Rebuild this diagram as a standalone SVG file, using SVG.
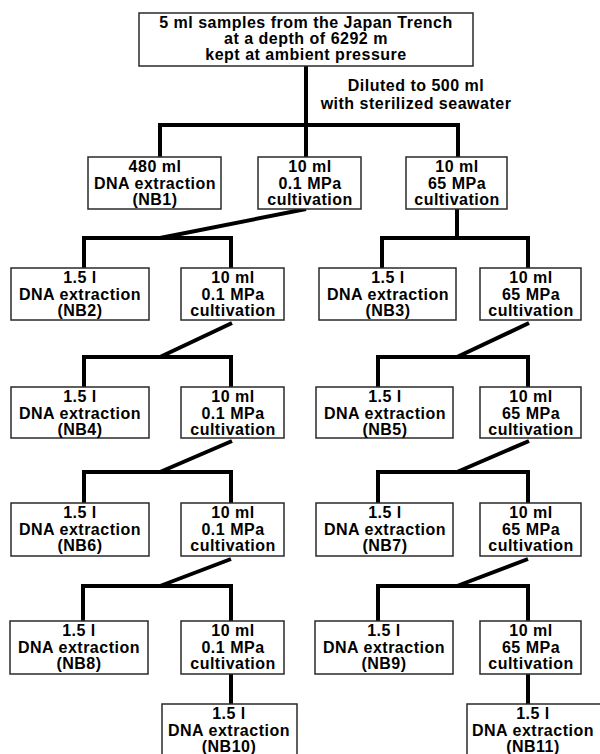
<svg xmlns="http://www.w3.org/2000/svg" width="600" height="754" viewBox="0 0 600 754">
<style>
.box{fill:#fff;stroke:#2a2a2a;stroke-width:1.5}
.t{font-family:"Liberation Sans",Arial,sans-serif;font-weight:bold;font-size:16px;letter-spacing:0.5px;text-anchor:middle;fill:#000}
.c{fill:none;stroke:#000;stroke-width:4;stroke-linejoin:miter;stroke-linecap:butt}
</style>
<rect width="600" height="754" fill="#fff"/>
<g id="connectors" class="c">
<path d="M306,66 V157 M160,157 V125 H458 V157"/>
<path d="M306,209 L160,238 M84,268 V238 H231 V268"/>
<path d="M457,209 V238 M382,268 V238 H528 V268"/>
<path d="M232,323 L160,357 M84,387 V357 H231 V387"/>
<path d="M529,323 L457,357 M378,387 V357 H528 V387"/>
<path d="M232,441 L160,472 M84,503 V472 H231 V503"/>
<path d="M529,441 L457,472 M378,503 V472 H528 V503"/>
<path d="M231,559 L160,586 M83,621 V586 H231 V621"/>
<path d="M528,559 L457,586 M378,621 V586 H528 V621"/>
<path d="M231,674 V704 M528,674 V704"/>
</g>
<g id="source">
<rect class="box" x="139" y="13" width="334" height="53"/>
<text class="t" x="306" y="28">5 ml samples from the Japan Trench</text>
<text class="t" x="306" y="44">at a depth of 6292 m</text>
<text class="t" x="306" y="60">kept at ambient pressure</text>
</g>
<g id="dilution-label">
<text class="t" x="416" y="91">Diluted to 500 ml</text>
<text class="t" x="416" y="109">with sterilized seawater</text>
</g>
<g id="nb1">
<rect class="box" x="88" y="157" width="133" height="52"/>
<text class="t" x="155" y="172">480 ml</text>
<text class="t" x="155" y="189">DNA extraction</text>
<text class="t" x="155" y="205">(NB1)</text>
</g>
<g id="cult01-1">
<rect class="box" x="258" y="157" width="103" height="52"/>
<text class="t" x="310" y="172">10 ml</text>
<text class="t" x="310" y="189">0.1 MPa</text>
<text class="t" x="310" y="205">cultivation</text>
</g>
<g id="cult65-1">
<rect class="box" x="406" y="157" width="101" height="52"/>
<text class="t" x="457" y="172">10 ml</text>
<text class="t" x="457" y="189">65 MPa</text>
<text class="t" x="457" y="205">cultivation</text>
</g>
<g id="nb2">
<rect class="box" x="11" y="268" width="138" height="52"/>
<text class="t" x="80" y="283">1.5 l</text>
<text class="t" x="80" y="300">DNA extraction</text>
<text class="t" x="80" y="316">(NB2)</text>
</g>
<g id="cult01-2">
<rect class="box" x="181" y="268" width="103" height="52"/>
<text class="t" x="233" y="283">10 ml</text>
<text class="t" x="233" y="300">0.1 MPa</text>
<text class="t" x="233" y="316">cultivation</text>
</g>
<g id="nb3">
<rect class="box" x="319" y="268" width="137" height="52"/>
<text class="t" x="388" y="283">1.5 l</text>
<text class="t" x="388" y="300">DNA extraction</text>
<text class="t" x="388" y="316">(NB3)</text>
</g>
<g id="cult65-2">
<rect class="box" x="480" y="268" width="101" height="52"/>
<text class="t" x="531" y="283">10 ml</text>
<text class="t" x="531" y="300">65 MPa</text>
<text class="t" x="531" y="316">cultivation</text>
</g>
<g id="nb4">
<rect class="box" x="11" y="387" width="138" height="51"/>
<text class="t" x="80" y="402">1.5 l</text>
<text class="t" x="80" y="419">DNA extraction</text>
<text class="t" x="80" y="435">(NB4)</text>
</g>
<g id="cult01-3">
<rect class="box" x="181" y="387" width="103" height="51"/>
<text class="t" x="233" y="402">10 ml</text>
<text class="t" x="233" y="419">0.1 MPa</text>
<text class="t" x="233" y="435">cultivation</text>
</g>
<g id="nb5">
<rect class="box" x="316" y="387" width="137" height="51"/>
<text class="t" x="385" y="402">1.5 l</text>
<text class="t" x="385" y="419">DNA extraction</text>
<text class="t" x="385" y="435">(NB5)</text>
</g>
<g id="cult65-3">
<rect class="box" x="480" y="387" width="101" height="51"/>
<text class="t" x="531" y="402">10 ml</text>
<text class="t" x="531" y="419">65 MPa</text>
<text class="t" x="531" y="435">cultivation</text>
</g>
<g id="nb6">
<rect class="box" x="11" y="503" width="138" height="53"/>
<text class="t" x="80" y="518">1.5 l</text>
<text class="t" x="80" y="535">DNA extraction</text>
<text class="t" x="80" y="551">(NB6)</text>
</g>
<g id="cult01-4">
<rect class="box" x="181" y="503" width="103" height="53"/>
<text class="t" x="233" y="518">10 ml</text>
<text class="t" x="233" y="535">0.1 MPa</text>
<text class="t" x="233" y="551">cultivation</text>
</g>
<g id="nb7">
<rect class="box" x="316" y="503" width="137" height="53"/>
<text class="t" x="385" y="518">1.5 l</text>
<text class="t" x="385" y="535">DNA extraction</text>
<text class="t" x="385" y="551">(NB7)</text>
</g>
<g id="cult65-4">
<rect class="box" x="480" y="503" width="101" height="53"/>
<text class="t" x="531" y="518">10 ml</text>
<text class="t" x="531" y="535">65 MPa</text>
<text class="t" x="531" y="551">cultivation</text>
</g>
<g id="nb8">
<rect class="box" x="10" y="621" width="138" height="53"/>
<text class="t" x="79" y="636">1.5 l</text>
<text class="t" x="79" y="653">DNA extraction</text>
<text class="t" x="79" y="669">(NB8)</text>
</g>
<g id="cult01-5">
<rect class="box" x="181" y="621" width="103" height="53"/>
<text class="t" x="233" y="636">10 ml</text>
<text class="t" x="233" y="653">0.1 MPa</text>
<text class="t" x="233" y="669">cultivation</text>
</g>
<g id="nb9">
<rect class="box" x="315" y="621" width="138" height="53"/>
<text class="t" x="384" y="636">1.5 l</text>
<text class="t" x="384" y="653">DNA extraction</text>
<text class="t" x="384" y="669">(NB9)</text>
</g>
<g id="cult65-5">
<rect class="box" x="480" y="621" width="101" height="53"/>
<text class="t" x="531" y="636">10 ml</text>
<text class="t" x="531" y="653">65 MPa</text>
<text class="t" x="531" y="669">cultivation</text>
</g>
<g id="nb10">
<rect class="box" x="162" y="704" width="135" height="56"/>
<text class="t" x="229" y="719">1.5 l</text>
<text class="t" x="229" y="736">DNA extraction</text>
<text class="t" x="229" y="752">(NB10)</text>
</g>
<g id="nb11">
<rect class="box" x="467" y="704" width="136" height="56"/>
<text class="t" x="533" y="719">1.5 l</text>
<text class="t" x="533" y="736">DNA extraction</text>
<text class="t" x="533" y="752">(NB11)</text>
</g>
</svg>
